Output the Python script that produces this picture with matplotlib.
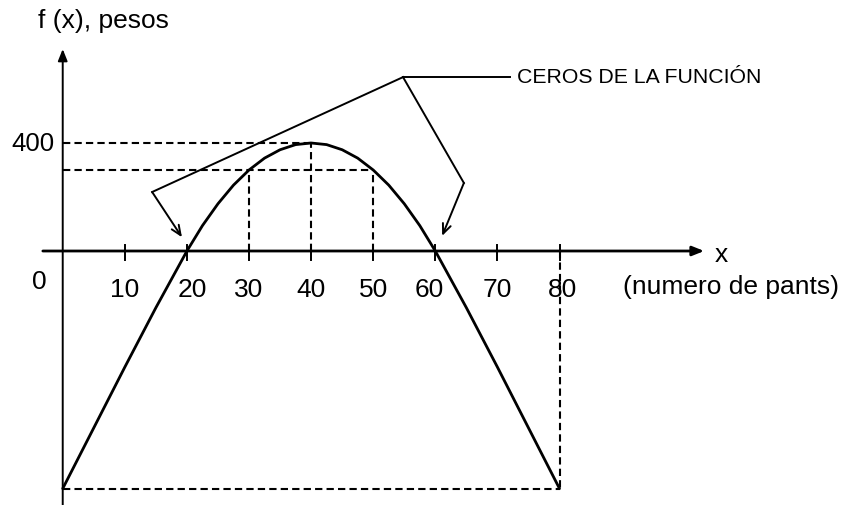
import matplotlib
matplotlib.use("Agg")
import matplotlib.pyplot as plt

plt.rcParams["font.family"] = ["Liberation Sans", "DejaVu Sans"]

# profit curve (x = number of pants, y = pesos)
curve_x = [0, 5, 10, 15, 20, 22.5, 25, 27.5, 30, 32.5, 35, 37.5, 40,
           42.5, 45, 47.5, 50, 52.5, 55, 57.5, 60, 65, 70, 75, 80]
curve_y = [-880, -655, -430, -210, 0, 94, 175, 244, 300, 344, 375, 394, 400,
           394, 375, 344, 300, 244, 175, 94, 0, -210, -430, -655, -880]

tick_values = [10, 20, 30, 40, 50, 60, 70, 80]
tick_labels = ["10", "20", "30", "40", "50", "60", "70", "80"]
label_shift = [0, 0.9, 0, 0, 0, -0.9, 0, 0.5]

vertex_x, vertex_y = 40, 400
side_x = [30, 50]
side_y = 300
bottom_y = -880
last_x = 80

zeros_x = [20, 60]

fig = plt.figure(figsize=(8.43, 5.05), dpi=100)
ax = fig.add_axes([0, 0, 1, 1])
ax.set_xlim(-10.10, 125.65)
ax.set_ylim(-940.7, 929.6)
ax.axis("off")

dash = dict(color="black", lw=1.5, ls=(0, (3.5, 2.0)))

# guide lines
ax.plot([0, vertex_x], [vertex_y, vertex_y], **dash)
ax.plot([vertex_x, vertex_x], [0, vertex_y], **dash)
ax.plot([0, side_x[1]], [side_y, side_y], **dash)
for sx in side_x:
    ax.plot([sx, sx], [0, side_y], **dash)
ax.plot([0, last_x], [bottom_y, bottom_y], **dash)
ax.plot([last_x, last_x], [0, bottom_y], **dash)

# axes with arrows
ax.annotate("", xy=(103.3, 0), xytext=(-3.2, 0),
            arrowprops=dict(arrowstyle="-|>,head_length=0.7,head_width=0.28",
                            lw=2.0, color="black", shrinkA=0, shrinkB=0))
ax.annotate("", xy=(0, 748), xytext=(0, -940.7),
            arrowprops=dict(arrowstyle="-|>,head_length=0.7,head_width=0.28",
                            lw=1.4, color="black", shrinkA=0, shrinkB=0))

for t, lab, sh in zip(tick_values, tick_labels, label_shift):
    ax.plot([t, t], [-33, 24], color="black", lw=1.4)
    ax.text(t + sh, -171, lab, fontsize=19, ha="center", va="baseline")

ax.plot(curve_x, curve_y, color="black", lw=2.0, solid_capstyle="round")

# labels
ax.text(-3.98, 826, "f (x), pesos", fontsize=19, ha="left", va="baseline")
ax.text(-1.4, 369, "400", fontsize=18.5, ha="right", va="baseline")
ax.text(-3.8, -139, "0", fontsize=19, ha="center", va="baseline")
ax.text(106.0, -40, "x", fontsize=19, ha="center", va="baseline")
ax.text(90.2, -161, "(numero de pants)", fontsize=19, ha="left", va="baseline")

# leader lines to the zeros
jx, jy = 54.8, 644
ax.plot([jx, 72.0], [jy, jy], color="black", lw=1.4)
ax.text(73.1, 621, "CEROS DE LA FUNCIÓN", fontsize=15.3, ha="left", va="baseline")
bends = [(14.4, 218.5), (64.6, 252)]
tips = [(zeros_x[0] - 0.8, 51), (zeros_x[1] + 1.1, 56)]
for (bx, by), tip in zip(bends, tips):
    ax.plot([jx, bx], [jy, by], color="black", lw=1.4)
    ax.annotate("", xy=tip, xytext=(bx, by),
                arrowprops=dict(arrowstyle="->,head_length=0.7,head_width=0.3",
                                lw=1.4, color="black", shrinkA=0, shrinkB=0))

fig.savefig("out.png", dpi=100)
